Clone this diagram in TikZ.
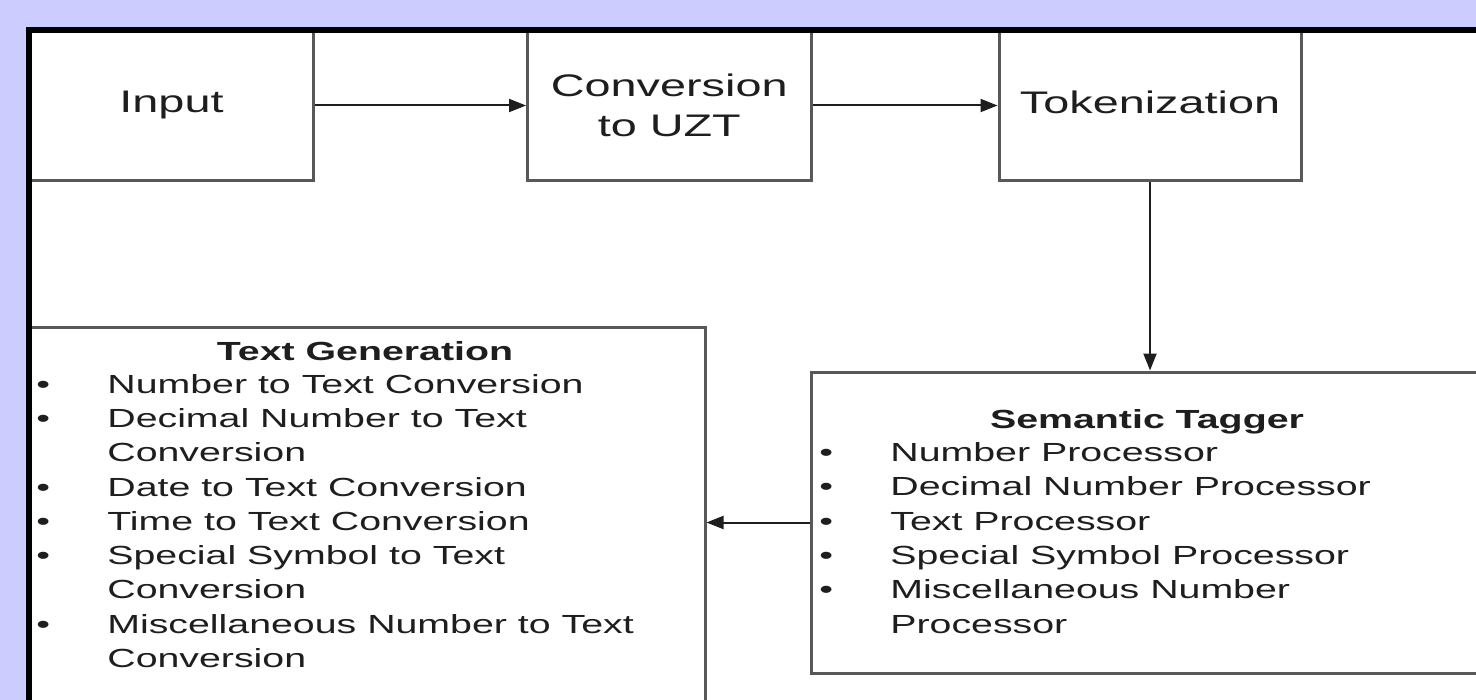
\documentclass[tikz,border=0pt]{standalone}
\usepackage{fontspec}
\setmainfont{Liberation Sans}[FakeStretch=1.5]
\usepackage{tikz}
\usetikzlibrary{arrows.meta}
\definecolor{lavender}{RGB}{204,204,255}
\definecolor{edgegray}{RGB}{88,88,88}
\definecolor{inkgray}{RGB}{30,30,30}

\begin{document}
\begin{tikzpicture}[x=0.5pt,y=-0.5pt]
\tikzstyle{block}=[draw=edgegray,line width=1.5pt,fill=white,inner sep=0pt,align=center,text=inkgray,font=\fontsize{15.6}{20}\selectfont]
\tikzstyle{panel}=[draw=edgegray,line width=1.5pt,fill=white,inner sep=0pt]
\tikzstyle{head}=[anchor=base,inner sep=0pt,text=inkgray,font=\fontsize{13.1}{17.13}\selectfont\bfseries]
\tikzstyle{items}=[anchor=base west,inner sep=0pt,text=inkgray,font=\fontsize{13.1}{17.13}\selectfont]
\tikzstyle{flow}=[draw=inkgray,line width=1pt,-{Triangle[length=8.5pt,width=6.5pt]}]
\useasboundingbox (0,0) rectangle (1476,700);
\clip (0,0) rectangle (1476,700);
\fill[lavender] (0,0) rectangle (1476,700);
\fill[white] (32,33) rectangle (1476,700);

\node[block,minimum width=141.5pt,minimum height=75.5pt] (inp) at (171.5,105.5) {Input};
\node[block,minimum width=141.75pt,minimum height=75.5pt] (conv) at (669.25,105.5) {Conversion\\to UZT};
\node[block,minimum width=151pt,minimum height=75.5pt,text depth=3.3pt] (tok) at (1150,105.5) {Tokenization};

\node[panel,minimum width=394.5pt,minimum height=150.5pt] (sem) at (1205.5,522.5) {};
\node[panel,minimum width=337.5pt,minimum height=236.5pt] (gen) at (367.5,563.5) {};

\node[head] (semhead) at (1147,428.7) {Semantic Tagger};
\node[items] (semlist) at (819,461.7) {\begin{tabular}[t]{@{}p{35.5pt}@{}l@{}}
\textbullet & Number Processor\\
\textbullet & Decimal Number Processor\\
\textbullet & Text Processor\\
\textbullet & Special Symbol Processor\\
\textbullet & Miscellaneous Number\\
 & Processor
\end{tabular}};

\node[head] (genhead) at (365,360) {Text Generation};
\node[items] (genlist) at (36,393.3) {\begin{tabular}[t]{@{}p{35.5pt}@{}l@{}}
\textbullet & Number to Text Conversion\\
\textbullet & Decimal Number to Text\\
 & Conversion\\
\textbullet & Date to Text Conversion\\
\textbullet & Time to Text Conversion\\
\textbullet & Special Symbol to Text\\
 & Conversion\\
\textbullet & Miscellaneous Number to Text\\
 & Conversion
\end{tabular}};

\draw[flow] (inp) -- (conv);
\draw[flow] (conv) -- (tok);
\draw[flow] (tok.south) -- (tok.south |- sem.north);
\draw[flow] (sem.west) -- (sem.west -| gen.east);

\draw[line width=3pt] (29,760) |- (1520,30);
\end{tikzpicture}
\end{document}
